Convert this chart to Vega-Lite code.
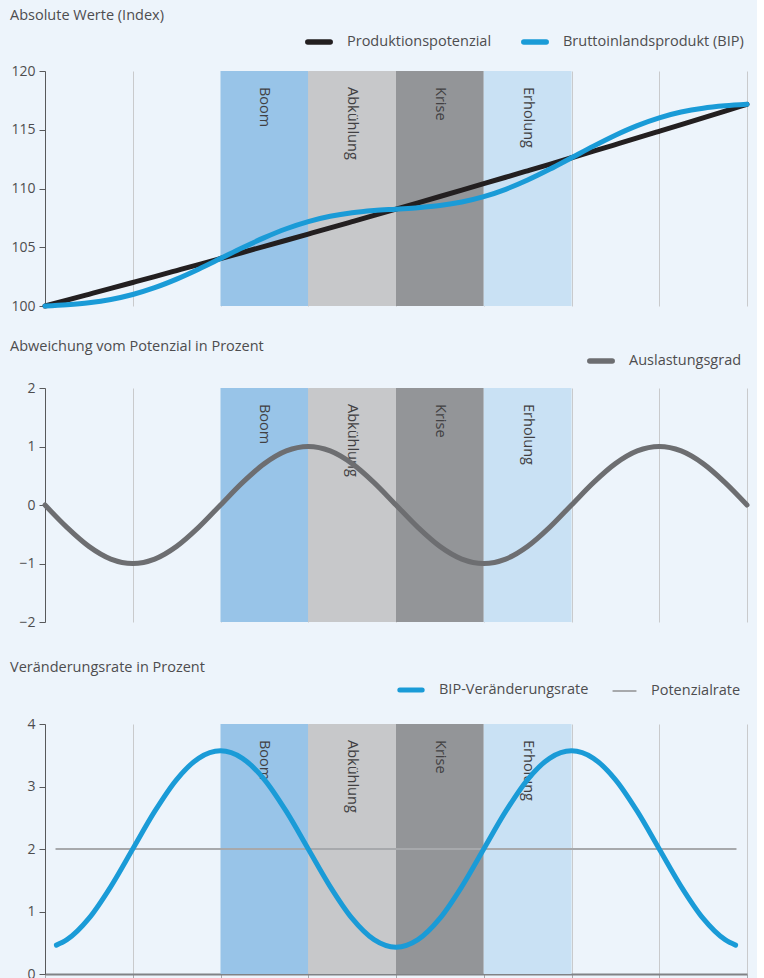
{
  "$schema": "https://vega.github.io/schema/vega-lite/v6.json",
  "padding": {"left": 10, "top": 7, "right": 0, "bottom": 0},
  "background": "#edf4fb",
  "datasets": {
    "phases": [
      {"phase": "Boom", "start": 2, "end": 3, "mid": 2.5},
      {"phase": "Abkühlung", "start": 3, "end": 4, "mid": 3.5},
      {"phase": "Krise", "start": 4, "end": 5, "mid": 4.5},
      {"phase": "Erholung", "start": 5, "end": 6, "mid": 5.5}
    ],
    "level": [
      {"x": 0, "series": "Produktionspotenzial", "value": 100},
      {"x": 0.25, "series": "Produktionspotenzial", "value": 100.496},
      {"x": 0.5, "series": "Produktionspotenzial", "value": 100.995},
      {"x": 0.75, "series": "Produktionspotenzial", "value": 101.496},
      {"x": 1, "series": "Produktionspotenzial", "value": 102.0},
      {"x": 1.25, "series": "Produktionspotenzial", "value": 102.506},
      {"x": 1.5, "series": "Produktionspotenzial", "value": 103.015},
      {"x": 1.75, "series": "Produktionspotenzial", "value": 103.526},
      {"x": 2, "series": "Produktionspotenzial", "value": 104.04},
      {"x": 2.25, "series": "Produktionspotenzial", "value": 104.556},
      {"x": 2.5, "series": "Produktionspotenzial", "value": 105.075},
      {"x": 2.75, "series": "Produktionspotenzial", "value": 105.597},
      {"x": 3, "series": "Produktionspotenzial", "value": 106.121},
      {"x": 3.25, "series": "Produktionspotenzial", "value": 106.647},
      {"x": 3.5, "series": "Produktionspotenzial", "value": 107.177},
      {"x": 3.75, "series": "Produktionspotenzial", "value": 107.709},
      {"x": 4, "series": "Produktionspotenzial", "value": 108.243},
      {"x": 4.25, "series": "Produktionspotenzial", "value": 108.78},
      {"x": 4.5, "series": "Produktionspotenzial", "value": 109.32},
      {"x": 4.75, "series": "Produktionspotenzial", "value": 109.863},
      {"x": 5, "series": "Produktionspotenzial", "value": 110.408},
      {"x": 5.25, "series": "Produktionspotenzial", "value": 110.956},
      {"x": 5.5, "series": "Produktionspotenzial", "value": 111.507},
      {"x": 5.75, "series": "Produktionspotenzial", "value": 112.06},
      {"x": 6, "series": "Produktionspotenzial", "value": 112.616},
      {"x": 6.25, "series": "Produktionspotenzial", "value": 113.175},
      {"x": 6.5, "series": "Produktionspotenzial", "value": 113.737},
      {"x": 6.75, "series": "Produktionspotenzial", "value": 114.301},
      {"x": 7, "series": "Produktionspotenzial", "value": 114.869},
      {"x": 7.25, "series": "Produktionspotenzial", "value": 115.439},
      {"x": 7.5, "series": "Produktionspotenzial", "value": 116.012},
      {"x": 7.75, "series": "Produktionspotenzial", "value": 116.588},
      {"x": 8, "series": "Produktionspotenzial", "value": 117.166},
      {"x": 0, "series": "Bruttoinlandsprodukt (BIP)", "value": 100},
      {"x": 0.25, "series": "Bruttoinlandsprodukt (BIP)", "value": 100.111},
      {"x": 0.5, "series": "Bruttoinlandsprodukt (BIP)", "value": 100.281},
      {"x": 0.75, "series": "Bruttoinlandsprodukt (BIP)", "value": 100.558},
      {"x": 1, "series": "Bruttoinlandsprodukt (BIP)", "value": 100.98},
      {"x": 1.25, "series": "Bruttoinlandsprodukt (BIP)", "value": 101.559},
      {"x": 1.5, "series": "Bruttoinlandsprodukt (BIP)", "value": 102.287},
      {"x": 1.75, "series": "Bruttoinlandsprodukt (BIP)", "value": 103.13},
      {"x": 2, "series": "Bruttoinlandsprodukt (BIP)", "value": 104.04},
      {"x": 2.25, "series": "Bruttoinlandsprodukt (BIP)", "value": 104.956},
      {"x": 2.5, "series": "Bruttoinlandsprodukt (BIP)", "value": 105.818},
      {"x": 2.75, "series": "Bruttoinlandsprodukt (BIP)", "value": 106.573},
      {"x": 3, "series": "Bruttoinlandsprodukt (BIP)", "value": 107.182},
      {"x": 3.25, "series": "Bruttoinlandsprodukt (BIP)", "value": 107.632},
      {"x": 3.5, "series": "Bruttoinlandsprodukt (BIP)", "value": 107.935},
      {"x": 3.75, "series": "Bruttoinlandsprodukt (BIP)", "value": 108.121},
      {"x": 4, "series": "Bruttoinlandsprodukt (BIP)", "value": 108.243},
      {"x": 4.25, "series": "Bruttoinlandsprodukt (BIP)", "value": 108.364},
      {"x": 4.5, "series": "Bruttoinlandsprodukt (BIP)", "value": 108.547},
      {"x": 4.75, "series": "Bruttoinlandsprodukt (BIP)", "value": 108.848},
      {"x": 5, "series": "Bruttoinlandsprodukt (BIP)", "value": 109.304},
      {"x": 5.25, "series": "Bruttoinlandsprodukt (BIP)", "value": 109.931},
      {"x": 5.5, "series": "Bruttoinlandsprodukt (BIP)", "value": 110.719},
      {"x": 5.75, "series": "Bruttoinlandsprodukt (BIP)", "value": 111.631},
      {"x": 6, "series": "Bruttoinlandsprodukt (BIP)", "value": 112.616},
      {"x": 6.25, "series": "Bruttoinlandsprodukt (BIP)", "value": 113.608},
      {"x": 6.5, "series": "Bruttoinlandsprodukt (BIP)", "value": 114.541},
      {"x": 6.75, "series": "Bruttoinlandsprodukt (BIP)", "value": 115.357},
      {"x": 7, "series": "Bruttoinlandsprodukt (BIP)", "value": 116.018},
      {"x": 7.25, "series": "Bruttoinlandsprodukt (BIP)", "value": 116.506},
      {"x": 7.5, "series": "Bruttoinlandsprodukt (BIP)", "value": 116.832},
      {"x": 7.75, "series": "Bruttoinlandsprodukt (BIP)", "value": 117.034},
      {"x": 8, "series": "Bruttoinlandsprodukt (BIP)", "value": 117.166}
    ],
    "gap": [
      {"x": 0, "series": "Auslastungsgrad", "value": 0},
      {"x": 0.25, "series": "Auslastungsgrad", "value": -0.3827},
      {"x": 0.5, "series": "Auslastungsgrad", "value": -0.7071},
      {"x": 0.75, "series": "Auslastungsgrad", "value": -0.9239},
      {"x": 1, "series": "Auslastungsgrad", "value": -1},
      {"x": 1.25, "series": "Auslastungsgrad", "value": -0.9239},
      {"x": 1.5, "series": "Auslastungsgrad", "value": -0.7071},
      {"x": 1.75, "series": "Auslastungsgrad", "value": -0.3827},
      {"x": 2, "series": "Auslastungsgrad", "value": 0},
      {"x": 2.25, "series": "Auslastungsgrad", "value": 0.3827},
      {"x": 2.5, "series": "Auslastungsgrad", "value": 0.7071},
      {"x": 2.75, "series": "Auslastungsgrad", "value": 0.9239},
      {"x": 3, "series": "Auslastungsgrad", "value": 1},
      {"x": 3.25, "series": "Auslastungsgrad", "value": 0.9239},
      {"x": 3.5, "series": "Auslastungsgrad", "value": 0.7071},
      {"x": 3.75, "series": "Auslastungsgrad", "value": 0.3827},
      {"x": 4, "series": "Auslastungsgrad", "value": 0},
      {"x": 4.25, "series": "Auslastungsgrad", "value": -0.3827},
      {"x": 4.5, "series": "Auslastungsgrad", "value": -0.7071},
      {"x": 4.75, "series": "Auslastungsgrad", "value": -0.9239},
      {"x": 5, "series": "Auslastungsgrad", "value": -1},
      {"x": 5.25, "series": "Auslastungsgrad", "value": -0.9239},
      {"x": 5.5, "series": "Auslastungsgrad", "value": -0.7071},
      {"x": 5.75, "series": "Auslastungsgrad", "value": -0.3827},
      {"x": 6, "series": "Auslastungsgrad", "value": 0},
      {"x": 6.25, "series": "Auslastungsgrad", "value": 0.3827},
      {"x": 6.5, "series": "Auslastungsgrad", "value": 0.7071},
      {"x": 6.75, "series": "Auslastungsgrad", "value": 0.9239},
      {"x": 7, "series": "Auslastungsgrad", "value": 1},
      {"x": 7.25, "series": "Auslastungsgrad", "value": 0.9239},
      {"x": 7.5, "series": "Auslastungsgrad", "value": 0.7071},
      {"x": 7.75, "series": "Auslastungsgrad", "value": 0.3827},
      {"x": 8, "series": "Auslastungsgrad", "value": 0}
    ],
    "rate": [
      {"x": 0.13, "series": "BIP-Veränderungsrate", "value": 0.462},
      {"x": 0.25, "series": "BIP-Veränderungsrate", "value": 0.549},
      {"x": 0.5, "series": "BIP-Veränderungsrate", "value": 0.889},
      {"x": 0.75, "series": "BIP-Veränderungsrate", "value": 1.399},
      {"x": 1, "series": "BIP-Veränderungsrate", "value": 2},
      {"x": 1.25, "series": "BIP-Veränderungsrate", "value": 2.601},
      {"x": 1.5, "series": "BIP-Veränderungsrate", "value": 3.111},
      {"x": 1.75, "series": "BIP-Veränderungsrate", "value": 3.451},
      {"x": 2, "series": "BIP-Veränderungsrate", "value": 3.571},
      {"x": 2.25, "series": "BIP-Veränderungsrate", "value": 3.451},
      {"x": 2.5, "series": "BIP-Veränderungsrate", "value": 3.111},
      {"x": 2.75, "series": "BIP-Veränderungsrate", "value": 2.601},
      {"x": 3, "series": "BIP-Veränderungsrate", "value": 2},
      {"x": 3.25, "series": "BIP-Veränderungsrate", "value": 1.399},
      {"x": 3.5, "series": "BIP-Veränderungsrate", "value": 0.889},
      {"x": 3.75, "series": "BIP-Veränderungsrate", "value": 0.549},
      {"x": 4, "series": "BIP-Veränderungsrate", "value": 0.429},
      {"x": 4.25, "series": "BIP-Veränderungsrate", "value": 0.549},
      {"x": 4.5, "series": "BIP-Veränderungsrate", "value": 0.889},
      {"x": 4.75, "series": "BIP-Veränderungsrate", "value": 1.399},
      {"x": 5, "series": "BIP-Veränderungsrate", "value": 2},
      {"x": 5.25, "series": "BIP-Veränderungsrate", "value": 2.601},
      {"x": 5.5, "series": "BIP-Veränderungsrate", "value": 3.111},
      {"x": 5.75, "series": "BIP-Veränderungsrate", "value": 3.451},
      {"x": 6, "series": "BIP-Veränderungsrate", "value": 3.571},
      {"x": 6.25, "series": "BIP-Veränderungsrate", "value": 3.451},
      {"x": 6.5, "series": "BIP-Veränderungsrate", "value": 3.111},
      {"x": 6.75, "series": "BIP-Veränderungsrate", "value": 2.601},
      {"x": 7, "series": "BIP-Veränderungsrate", "value": 2},
      {"x": 7.25, "series": "BIP-Veränderungsrate", "value": 1.399},
      {"x": 7.5, "series": "BIP-Veränderungsrate", "value": 0.889},
      {"x": 7.75, "series": "BIP-Veränderungsrate", "value": 0.549},
      {"x": 7.87, "series": "BIP-Veränderungsrate", "value": 0.462},
      {"x": 0.12, "series": "Potenzialrate", "value": 2},
      {"x": 7.88, "series": "Potenzialrate", "value": 2}
    ]
  },
  "config": {
    "font": "Open Sans",
    "view": {"stroke": null},
    "axis": {
      "labelFont": "Open Sans", "labelFontSize": 14, "labelColor": "#4d4d4f",
      "domainColor": "#58595b", "tickColor": "#58595b", "tickSize": 6, "labelPadding": 4,
      "gridColor": "#c9cacc", "title": null
    },
    "legend": {
      "labelFont": "Open Sans", "labelFontSize": 14.5, "labelColor": "#4d4d4f", "labelLimit": 400,
      "symbolType": "stroke", "symbolStrokeWidth": 5.5, "symbolSize": 500,
      "columnPadding": 20, "labelOffset": 14, "orient": "none", "direction": "horizontal", "title": null
    },
    "title": {
      "anchor": "start", "frame": "group", "dx": -35, "font": "Open Sans", "fontSize": 14.5,
      "fontWeight": "normal", "color": "#4d4d4f"
    },
    "text": {"font": "Open Sans"}
  },
  "resolve": {"scale": {"color": "independent", "fill": "independent", "strokeWidth": "independent"}, "legend": {"color": "independent", "strokeWidth": "independent"}},
  "spacing": 22,
  "vconcat": [
    {
      "width": 702, "height": 235,
      "title": {"text": "Absolute Werte (Index)", "offset": 5},
      "layer": [
        {
          "data": {"name": "phases"},
          "mark": {"type": "rect"},
          "encoding": {
            "x": {"field": "start", "type": "quantitative", "scale": {"domain": [0, 8], "nice": false},
                  "axis": {"values": [0,1,2,3,4,5,6,7,8], "grid": true, "domain": false, "ticks": false, "labels": false}},
            "x2": {"field": "end"},
            "fill": {"field": "phase", "type": "nominal", "legend": null,
                     "scale": {"domain": ["Boom", "Abkühlung", "Krise", "Erholung"], "range": ["#98c4e8", "#c7c8ca", "#939598", "#c9e1f4"]}}
          }
        },
        {
          "data": {"name": "phases"},
          "mark": {"type": "text", "angle": 90, "align": "left", "baseline": "middle", "dx": 16, "fontSize": 14.5, "color": "#414042"},
          "encoding": {
            "x": {"field": "mid", "type": "quantitative"},
            "y": {"datum": 120, "scale": {"domain": [100, 120], "nice": false, "zero": false}},
            "text": {"field": "phase"}
          }
        },
        {
          "data": {"name": "level"},
          "transform": [{"filter": "datum.series === 'Produktionspotenzial'"}],
          "mark": {"type": "line", "strokeWidth": 5, "strokeCap": "round", "interpolate": "monotone"},
          "encoding": {
            "x": {"field": "x", "type": "quantitative"},
            "y": {"field": "value", "type": "quantitative", "scale": {"domain": [100, 120], "nice": false, "zero": false},
                  "axis": {"values": [100, 105, 110, 115, 120], "format": "d", "grid": false}},
            "color": {"field": "series", "type": "nominal",
                      "scale": {"domain": ["Produktionspotenzial", "Bruttoinlandsprodukt (BIP)"], "range": ["#231f20", "#1a9bd7"]},
                      "legend": {"legendX": 260, "legendY": -43, "encode": {"symbols": {"update": {"strokeCap": {"value": "round"}}}}}}
          }
        },
        {
          "data": {"name": "level"},
          "transform": [{"filter": "datum.series === 'Bruttoinlandsprodukt (BIP)'"}],
          "mark": {"type": "line", "strokeWidth": 5, "strokeCap": "round", "interpolate": "monotone"},
          "encoding": {
            "x": {"field": "x", "type": "quantitative"},
            "y": {"field": "value", "type": "quantitative", "scale": {"domain": [100, 120], "nice": false, "zero": false}},
            "color": {"field": "series", "type": "nominal"}
          }
        }
      ]
    },
    {
      "width": 702, "height": 234,
      "title": {"text": "Abweichung vom Potenzial in Prozent", "offset": -7},
      "layer": [
        {
          "data": {"name": "phases"},
          "mark": {"type": "rect"},
          "encoding": {
            "x": {"field": "start", "type": "quantitative", "scale": {"domain": [0, 8], "nice": false},
                  "axis": {"values": [0,1,2,3,4,5,6,7,8], "grid": true, "domain": false, "ticks": true, "tickSize": 15, "tickOpacity": 0, "labels": false}},
            "x2": {"field": "end"},
            "fill": {"field": "phase", "type": "nominal", "legend": null,
                     "scale": {"domain": ["Boom", "Abkühlung", "Krise", "Erholung"], "range": ["#98c4e8", "#c7c8ca", "#939598", "#c9e1f4"]}}
          }
        },
        {
          "data": {"name": "phases"},
          "mark": {"type": "text", "angle": 90, "align": "left", "baseline": "middle", "dx": 16, "fontSize": 14.5, "color": "#414042"},
          "encoding": {
            "x": {"field": "mid", "type": "quantitative"},
            "y": {"datum": 2},
            "text": {"field": "phase"}
          }
        },
        {
          "mark": {"type": "rule", "color": "#4d4d4f", "strokeWidth": 1},
          "encoding": {"y": {"datum": 0}}
        },
        {
          "data": {"name": "gap"},
          "mark": {"type": "line", "strokeWidth": 5, "strokeCap": "round", "interpolate": "monotone"},
          "encoding": {
            "x": {"field": "x", "type": "quantitative"},
            "y": {"field": "value", "type": "quantitative", "scale": {"domain": [-2, 2], "nice": false},
                  "axis": {"values": [-2, -1, 0, 1, 2], "format": "d", "grid": false}},
            "color": {"field": "series", "type": "nominal",
                      "scale": {"domain": ["Auslastungsgrad"], "range": ["#6d6e71"]},
                      "legend": {"legendX": 542, "legendY": -41, "encode": {"symbols": {"update": {"strokeCap": {"value": "round"}}}}}}
          }
        }
      ]
    },
    {
      "width": 702, "height": 250,
      "title": {"text": "Veränderungsrate in Prozent", "offset": 1},
      "layer": [
        {
          "data": {"name": "phases"},
          "mark": {"type": "rect"},
          "encoding": {
            "x": {"field": "start", "type": "quantitative", "scale": {"domain": [0, 8], "nice": false},
                  "axis": {"values": [0,1,2,3,4,5,6,7,8], "grid": true, "domain": true, "domainColor": "#808285", "domainWidth": 2,
                           "ticks": true, "tickColor": "#a7a9ac", "tickSize": 5, "labels": false}},
            "x2": {"field": "end"},
            "fill": {"field": "phase", "type": "nominal", "legend": null,
                     "scale": {"domain": ["Boom", "Abkühlung", "Krise", "Erholung"], "range": ["#98c4e8", "#c7c8ca", "#939598", "#c9e1f4"]}}
          }
        },
        {
          "data": {"name": "phases"},
          "mark": {"type": "text", "angle": 90, "align": "left", "baseline": "middle", "dx": 16, "fontSize": 14.5, "color": "#414042"},
          "encoding": {
            "x": {"field": "mid", "type": "quantitative"},
            "y": {"datum": 4},
            "text": {"field": "phase"}
          }
        },
        {
          "data": {"name": "rate"},
          "transform": [{"filter": "datum.series === 'Potenzialrate'"}],
          "mark": {"type": "line", "strokeCap": "butt", "interpolate": "monotone"},
          "encoding": {
            "x": {"field": "x", "type": "quantitative"},
            "y": {"field": "value", "type": "quantitative", "scale": {"domain": [0, 4], "nice": false},
                  "axis": {"values": [0, 1, 2, 3, 4], "format": "d", "grid": false}},
            "color": {"field": "series", "type": "nominal",
                      "scale": {"domain": ["BIP-Veränderungsrate", "Potenzialrate"], "range": ["#1a9bd7", "#a7a9ac"]},
                      "legend": {"legendX": 352, "legendY": -48, "encode": {"symbols": {"update": {"strokeCap": {"value": "round"}}}}}},
            "strokeWidth": {"field": "series", "type": "ordinal",
                            "scale": {"domain": ["BIP-Veränderungsrate", "Potenzialrate"], "range": [5, 2]},
                            "legend": {"legendX": 352, "legendY": -48, "encode": {"symbols": {"update": {"strokeCap": {"value": "round"}}}}}}
          }
        },
        {
          "data": {"name": "rate"},
          "transform": [{"filter": "datum.series === 'BIP-Veränderungsrate'"}],
          "mark": {"type": "line", "strokeCap": "round", "interpolate": "monotone"},
          "encoding": {
            "x": {"field": "x", "type": "quantitative"},
            "y": {"field": "value", "type": "quantitative"},
            "color": {"field": "series", "type": "nominal"},
            "strokeWidth": {"field": "series", "type": "ordinal"}
          }
        }
      ]
    }
  ]
}
